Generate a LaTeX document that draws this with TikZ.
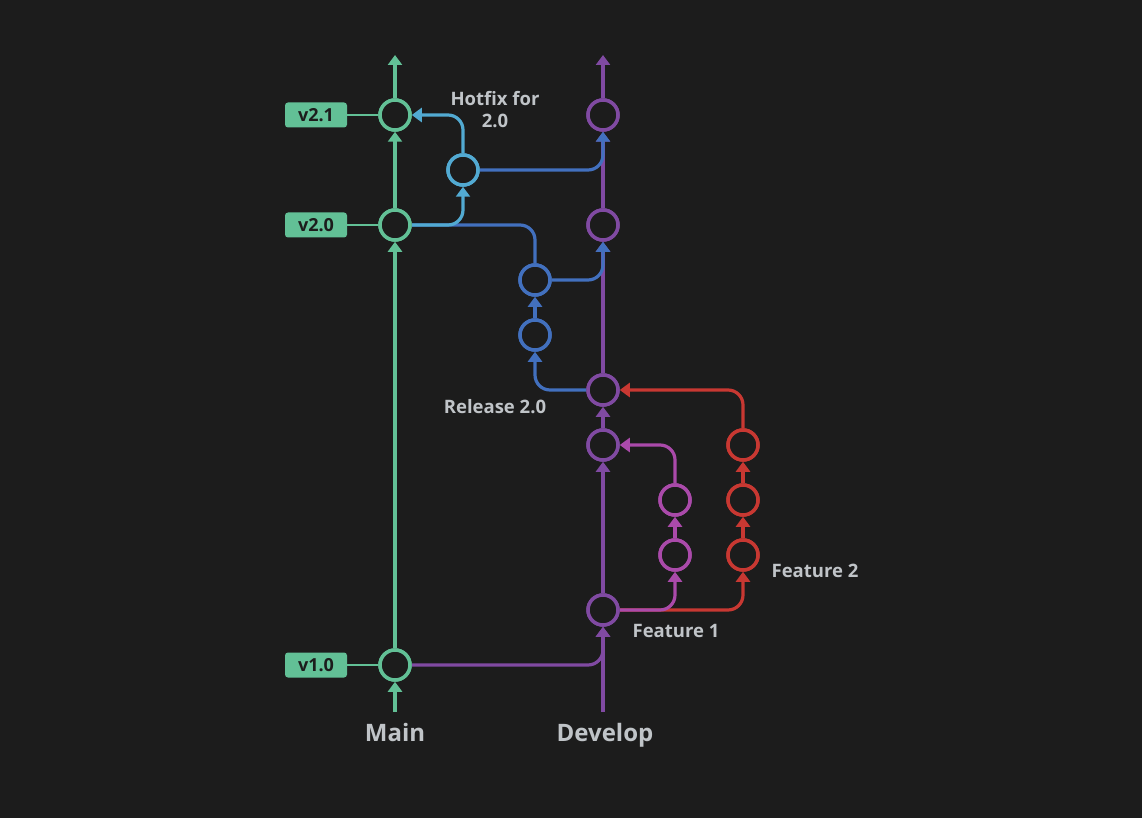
\documentclass[tikz,border=0pt]{standalone}
\usepackage{fontspec}
\setmainfont{Open Sans}
\usetikzlibrary{arrows.meta}
\definecolor{bg}{RGB}{28,28,28}
\definecolor{cmain}{RGB}{98,192,150}
\definecolor{cdev}{RGB}{128,74,162}
\definecolor{chot}{RGB}{82,170,210}
\definecolor{crel}{RGB}{66,112,190}
\definecolor{cf1}{RGB}{170,74,170}
\definecolor{cf2}{RGB}{200,56,50}
\definecolor{ctext}{RGB}{192,196,200}
\tikzset{
  commit/.style={circle,draw=#1,fill=bg,line width=3.5pt,minimum size=30pt,inner sep=0pt},
  br/.style={draw=#1,line width=3.2pt,rounded corners=15pt},
  arr/.style={-{Triangle[width=14pt,length=10pt]}},
  tagbox/.style={fill=cmain,rounded corners=3pt,minimum width=62pt,minimum height=25pt,inner sep=0pt,text=bg,font=\fontsize{18}{20}\selectfont\bfseries},
  lbl/.style={text=ctext,font=\fontsize{18.5}{22}\selectfont\bfseries,anchor=base,inner sep=0pt},
  biglbl/.style={text=ctext,font=\fontsize{24}{28}\selectfont\bfseries,anchor=base,inner sep=0pt},
}
\begin{document}
\begin{tikzpicture}[x=1pt,y=-1pt]
\fill[bg] (0,0) rectangle (1142,818);
\useasboundingbox (0,0) rectangle (1142,818);
% coordinates
\coordinate (mtop) at (395,55);
\coordinate (mbot) at (395,712);
\coordinate (dtop) at (603,55);
\coordinate (dbot) at (603,712);
% commits
\node[commit=cmain] (v21) at (395,115) {};
\node[commit=cmain] (v20) at (395,225) {};
\node[commit=cmain] (v10) at (395,665) {};
\node[commit=cdev] (d1) at (603,115) {};
\node[commit=cdev] (d2) at (603,225) {};
\node[commit=cdev] (d3) at (603,390) {};
\node[commit=cdev] (d4) at (603,445) {};
\node[commit=cdev] (d5) at (603,610) {};
\node[commit=chot] (hf) at (463,170) {};
\node[commit=crel] (r1) at (535,335) {};
\node[commit=crel] (r2) at (535,280) {};
\node[commit=cf1] (fa1) at (675,555) {};
\node[commit=cf1] (fa2) at (675,500) {};
\node[commit=cf2] (fb1) at (743,555) {};
\node[commit=cf2] (fb2) at (743,500) {};
\node[commit=cf2] (fb3) at (743,445) {};
% tags
\node[tagbox] (t21) at (316,115) {v2.1};
\node[tagbox] (t20) at (316,225) {v2.0};
\node[tagbox] (t10) at (316,665) {v1.0};
% connectors
\draw[cmain,line width=2pt] (t21.east) -- (v21.west);
\draw[cmain,line width=2pt] (t20.east) -- (v20.west);
\draw[cmain,line width=2pt] (t10.east) -- (v10.west);
% main
\draw[br=cmain,arr] (mbot) -- (v10.south);
\draw[br=cmain,arr] (v10.north) -- (v20.south);
\draw[br=cmain,arr] (v20.north) -- (v21.south);
\draw[br=cmain,arr] (v21.north) -- (mtop);
% develop
\draw[br=cdev,arr] (dbot) -- (d5.south);
\draw[br=cdev,arr] (v10.east) -| (d5.south);
\draw[br=cdev,arr] (d5.north) -- (d4.south);
\draw[br=cdev,arr] (d4.north) -- (d3.south);
\draw[br=cdev,arr] (d3.north) -- (d2.south);
\draw[br=cdev,arr] (d2.north) -- (d1.south);
\draw[br=cdev,arr] (d1.north) -- (dtop);
% features
\draw[br=cf2,arr] (d5.east) -| (fb1.south);
\draw[br=cf1,arr] (d5.east) -| (fa1.south);
\draw[br=cf1,arr] (fa1.north) -- (fa2.south);
\draw[br=cf1,arr] (fa2.north) |- (d4.east);
\draw[br=cf2,arr] (fb1.north) -- (fb2.south);
\draw[br=cf2,arr] (fb2.north) -- (fb3.south);
\draw[br=cf2,arr] (fb3.north) |- (d3.east);
% release
\draw[br=crel,arr] (d3.west) -| (r1.south);
\draw[br=crel,arr] (r1.north) -- (r2.south);
\draw[br=crel,arr] (r2.east) -| (d2.south);
\draw[br=crel] (r2.north) |- (v20.east);
% hotfix
\draw[br=chot,arr] (v20.east) -| (hf.south);
\draw[br=chot,arr] (hf.north) |- (v21.east);
\draw[br=crel,arr] (hf.east) -| (d1.south);
% redraw commits on top
\foreach \n/\c in {v21/cmain,v20/cmain,v10/cmain,d1/cdev,d2/cdev,d3/cdev,d4/cdev,d5/cdev,hf/chot,r1/crel,r2/crel,fa1/cf1,fa2/cf1,fb1/cf2,fb2/cf2,fb3/cf2}
  \draw[\c,line width=3.5pt,fill=bg] (\n) circle (15pt);
% labels
\node[lbl] (lhf1) at (495,106) {Hotfix for};
\node[lbl] (lhf2) at (495,128) {2.0};
\node[lbl] (lrel) at (495,413) {Release 2.0};
\node[lbl] (lf1) at (676,637) {Feature 1};
\node[lbl] (lf2) at (815,577) {Feature 2};
\node[biglbl] (lmain) at (395,741) {Main};
\node[biglbl] (ldev) at (605,741) {Develop};
\end{tikzpicture}
\end{document}
